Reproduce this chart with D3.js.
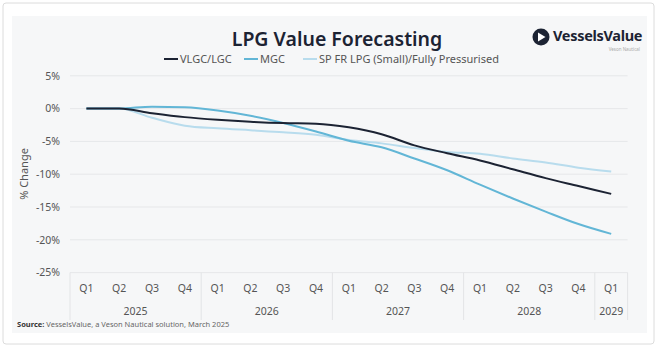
<html>
<head>
<meta charset="utf-8">
<title>LPG Value Forecasting</title>
<style>
  body { margin: 0; background: #fff; font-family: "Noto Sans", "Open Sans", sans-serif; }
</style>
</head>
<body>
<script src="https://cdn.jsdelivr.net/npm/d3@7"></script>
<script>
var width = 660, height = 350;

// data (% change)
var quarters = ["Q1","Q2","Q3","Q4","Q1","Q2","Q3","Q4","Q1","Q2","Q3","Q4","Q1","Q2","Q3","Q4","Q1"];
var years = ["2025","2026","2027","2028","2029"];
var yearSpan = [4, 4, 4, 4, 1]; // quarters per year group
var seriesNames = ["VLGC/LGC", "MGC", "SP FR LPG (Small)/Fully Pressurised"];
var vlgc = [0, 0, -0.7, -1.3, -1.7, -2.0, -2.2, -2.3, -2.85, -3.9, -5.6, -6.8, -7.9, -9.25, -10.6, -11.8, -13.0];
var mgc  = [0, 0, 0.3, 0.2, -0.3, -1.1, -2.2, -3.5, -4.9, -5.9, -7.6, -9.4, -11.6, -13.7, -15.7, -17.6, -19.1];
var spfr = [0, 0, -1.4, -2.6, -3.0, -3.3, -3.6, -4.0, -4.8, -5.3, -6.0, -6.6, -6.9, -7.6, -8.2, -9.0, -9.6];
var yTicks = [5, 0, -5, -10, -15, -20, -25];
var colors = ["#1c2333", "#62b6d6", "#b8dced"];

var svg = d3.select("body").append("svg")
  .attr("width", width).attr("height", height);

// frame + panel
svg.append("rect").attr("x", 3).attr("y", 3).attr("width", 651).attr("height", 341)
  .attr("rx", 3).attr("fill", "#fff").attr("stroke", "#dcdcdc");
svg.append("rect").attr("x", 12).attr("y", 16).attr("width", 635).attr("height", 317)
  .attr("fill", "#f6f7f8");

var x = d3.scaleBand().domain(d3.range(quarters.length)).range([70, 627.6]);
var y = d3.scaleLinear().domain([-25, 5]).range([272.6, 75.8]);

// gridlines
svg.append("g").selectAll("line").data(yTicks).enter().append("line")
  .attr("x1", 70).attr("x2", 627.6)
  .attr("y1", function(d){ return y(d); }).attr("y2", function(d){ return y(d); })
  .attr("stroke", "#e6e7e9").attr("stroke-width", 1);

// y axis labels
var yAxis = d3.axisLeft(y).tickValues(yTicks).tickSize(0).tickPadding(0)
  .tickFormat(function(d){ return d + "%"; });
svg.append("g").attr("transform", "translate(60,0)").call(yAxis)
  .call(function(g){ g.select(".domain").remove(); })
  .selectAll("text").attr("fill", "#555").attr("font-size", 10.5)
  .attr("font-family", "Noto Sans");

svg.append("text").attr("transform", "translate(28,174) rotate(-90)")
  .attr("text-anchor", "middle").attr("font-size", 11).attr("fill", "#555")
  .text("% Change");

// category axis: quarters
var xAxis = d3.axisBottom(x).tickSize(0).tickPadding(12)
  .tickFormat(function(i){ return quarters[i]; });
svg.append("g").attr("transform", "translate(0,272.6)").call(xAxis)
  .call(function(g){ g.select(".domain").remove(); })
  .selectAll("text").attr("fill", "#555").attr("font-size", 10.5)
  .attr("font-family", "Noto Sans");

// year groups
var start = 0;
var groups = years.map(function(yr, k){
  var g = { year: yr, from: start, to: start + yearSpan[k] - 1 };
  start += yearSpan[k];
  return g;
});
var sepX = [x(0)].concat(groups.map(function(g){ return x(g.to) + x.bandwidth(); }));
svg.append("g").selectAll("line").data(sepX).enter().append("line")
  .attr("x1", function(d){ return d; }).attr("x2", function(d){ return d; })
  .attr("y1", 272.6).attr("y2", 320)
  .attr("stroke", "#e3e4e6");
svg.append("g").selectAll("text").data(groups).enter().append("text")
  .attr("x", function(g){ return (x(g.from) + x(g.to) + x.bandwidth()) / 2; })
  .attr("y", 315).attr("text-anchor", "middle")
  .attr("font-size", 10.5).attr("fill", "#555")
  .text(function(g){ return g.year; });

// lines
var allSeries = [vlgc, mgc, spfr];
var line = d3.line()
  .x(function(d, i){ return x(i) + x.bandwidth() / 2; })
  .y(function(d){ return y(d); })
  .curve(d3.curveMonotoneX);
[2, 1, 0].forEach(function(k){
  svg.append("path").datum(allSeries[k])
    .attr("fill", "none").attr("stroke", colors[k]).attr("stroke-width", 2)
    .attr("d", line);
});

// title
svg.append("text").attr("x", 337).attr("y", 46).attr("text-anchor", "middle")
  .attr("font-size", 19.5).attr("font-weight", 600).attr("fill", "#1c2333")
  .text("LPG Value Forecasting");

// legend
var legendX = [164, 244, 303];
var leg = svg.append("g").selectAll("g").data(seriesNames).enter().append("g")
  .attr("transform", function(d, i){ return "translate(" + legendX[i] + ",59)"; });
leg.append("line").attr("x1", 0).attr("x2", 14).attr("y1", 0).attr("y2", 0)
  .attr("stroke", function(d, i){ return colors[i]; }).attr("stroke-width", 2);
leg.append("text").attr("x", 16).attr("y", 4).attr("font-size", 11).attr("fill", "#555")
  .text(function(d){ return d; });

// logo
var logo = svg.append("g").attr("transform", "translate(541,37)");
logo.append("circle").attr("r", 8.5).attr("fill", "#1c2333");
logo.append("path").attr("d", "M-3,-4.5 L4.5,0 L-3,4.5 Z").attr("fill", "#fff");
svg.append("text").attr("x", 553).attr("y", 41).attr("font-size", 14.5)
  .attr("font-weight", "bold").attr("fill", "#1c2333").attr("letter-spacing", -0.3)
  .text("VesselsValue");
svg.append("text").attr("x", 640).attr("y", 51).attr("text-anchor", "end")
  .attr("font-size", 4.5).attr("fill", "#aaa").text("Veson Nautical");

// source
var src = svg.append("text").attr("x", 17).attr("y", 327).attr("font-size", 7.5).attr("fill", "#666");
src.append("tspan").attr("font-weight", "bold").attr("fill", "#333").text("Source:");
src.append("tspan").text(" VesselsValue, a Veson Nautical solution, March 2025");
</script>
</body>
</html>
